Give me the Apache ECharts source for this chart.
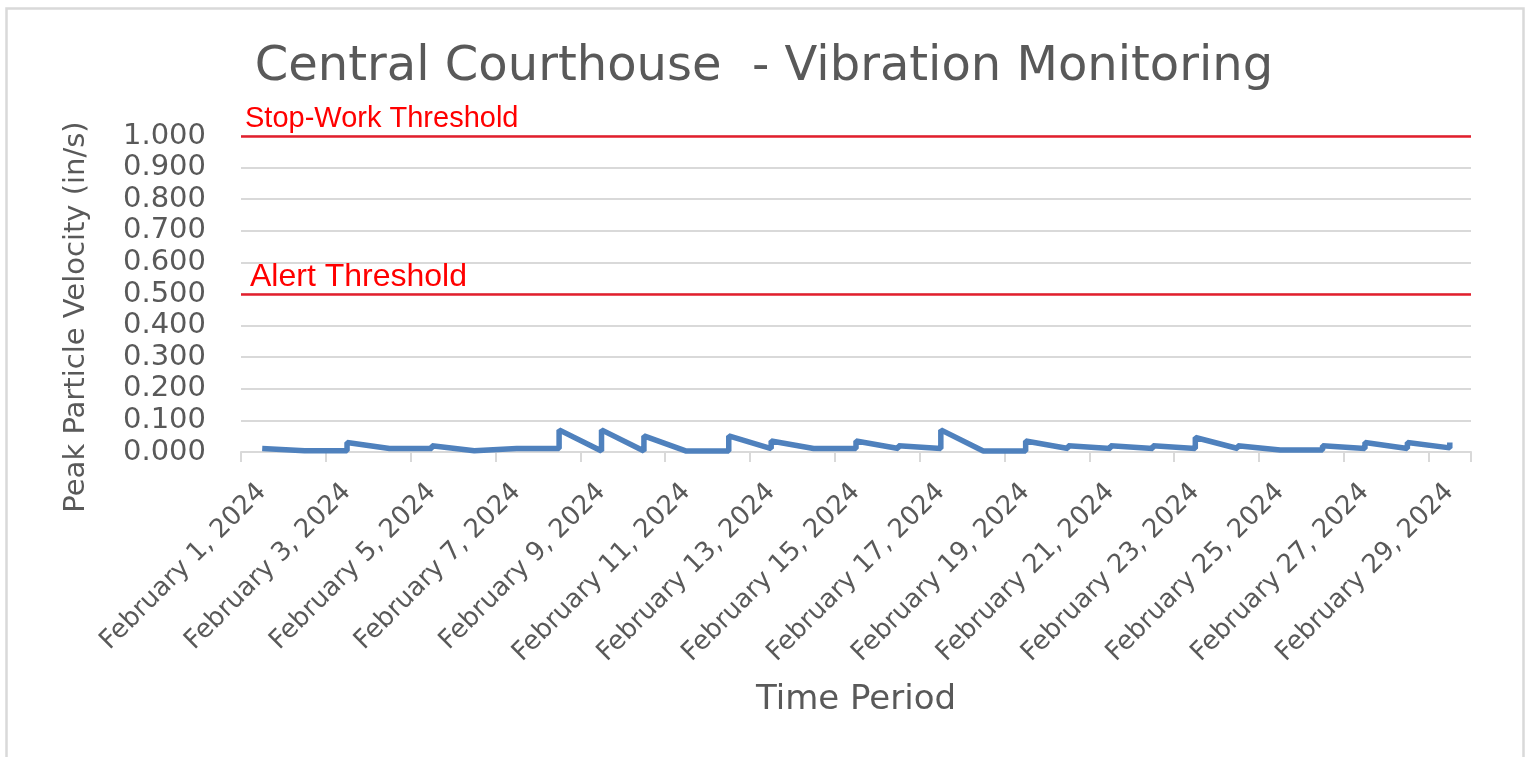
<!DOCTYPE html>
<html>
<head>
<meta charset="utf-8">
<script src="https://cdn.jsdelivr.net/npm/echarts@6/dist/echarts.min.js"></script>
<style>
html,body{margin:0;padding:0;background:#ffffff;}
#chart{width:1528px;height:757px;}
</style>
</head>
<body>
<div id="chart"></div>
<script>
// ---- Data ----
const dates = [
  'February 1, 2024','February 2, 2024','February 3, 2024','February 4, 2024','February 5, 2024',
  'February 6, 2024','February 7, 2024','February 8, 2024','February 9, 2024','February 10, 2024',
  'February 11, 2024','February 12, 2024','February 13, 2024','February 14, 2024','February 15, 2024',
  'February 16, 2024','February 17, 2024','February 18, 2024','February 19, 2024','February 20, 2024',
  'February 21, 2024','February 22, 2024','February 23, 2024','February 24, 2024','February 25, 2024',
  'February 26, 2024','February 27, 2024','February 28, 2024','February 29, 2024'
];
// first reading logged on each date (in/s)
const firstReading = [
  0.011, 0.004, 0.004, 0.011, 0.011, 0.004, 0.011, 0.011, 0.003, 0.003,
  0.003, 0.003, 0.011, 0.011, 0.011, 0.011, 0.011, 0.003, 0.003, 0.011,
  0.011, 0.011, 0.011, 0.011, 0.006, 0.006, 0.011, 0.011, 0.013
];
// peak reading logged on each date (in/s)
const peakReading = [
  0.011, 0.004, 0.030, 0.011, 0.020, 0.004, 0.011, 0.070, 0.070, 0.051,
  0.003, 0.051, 0.035, 0.011, 0.035, 0.020, 0.070, 0.003, 0.035, 0.020,
  0.020, 0.020, 0.046, 0.020, 0.006, 0.020, 0.030, 0.030, 0.030
];
const thresholdNames = ['Stop-Work Threshold', 'Alert Threshold'];
const thresholdValues = [1.0, 0.5];
const yMin = 0, yMax = 1, yStep = 0.1;

// ---- Build the series from the arrays ----
const lineData = [];
dates.forEach(function (d, i) {
  lineData.push([i, firstReading[i]]);
  lineData.push([i, peakReading[i]]);
});

const GRAY = '#595959';
const GRID = '#d9d9d9';
const FONT = 'DejaVu Sans';

const chart = echarts.init(document.getElementById('chart'));
chart.setOption({
  animation: false,
  backgroundColor: '#ffffff',
  title: {
    text: 'Central Courthouse  - Vibration Monitoring',
    left: 'center',
    top: 39,
    textStyle: { fontFamily: FONT, fontSize: 48, fontWeight: 'normal', color: GRAY }
  },
  graphic: [{
    type: 'rect',
    left: 4, top: 6,
    shape: { width: 1517, height: 770 },
    style: { fill: 'none', stroke: GRID, lineWidth: 2.5 },
    silent: true
  }],
  grid: { left: 241, right: 57, top: 136, bottom: 305, containLabel: false },
  xAxis: {
    type: 'category',
    data: dates,
    boundaryGap: true,
    axisLine: { show: true, lineStyle: { color: GRID, width: 2 } },
    axisTick: { show: true, interval: 1, length: 10, lineStyle: { color: GRID, width: 2 } },
    axisLabel: { interval: 1, rotate: 45, color: GRAY, fontFamily: FONT, fontSize: 26, margin: 36 },
    splitLine: { show: false },
    name: 'Time Period',
    nameLocation: 'middle',
    nameGap: 231,
    nameTextStyle: { color: GRAY, fontFamily: FONT, fontSize: 34 }
  },
  yAxis: {
    type: 'value',
    min: yMin, max: yMax, interval: yStep,
    axisLine: { show: false },
    axisTick: { show: false },
    axisLabel: {
      formatter: function (v) { return v.toFixed(3); },
      color: GRAY, fontFamily: FONT, fontSize: 29, margin: 35
    },
    splitLine: { lineStyle: { color: GRID, width: 2 } },
    name: 'Peak Particle Velocity (in/s)',
    nameLocation: 'middle',
    nameRotate: 90,
    nameGap: 150,
    nameTextStyle: { color: GRAY, fontFamily: FONT, fontSize: 29, padding: [0, 46, 0, 0] }
  },
  series: [{
    type: 'line',
    data: lineData,
    symbol: 'none',
    showSymbol: false,
    clip: false,
    lineStyle: { color: '#4f81bd', width: 5.5 },
    itemStyle: { color: '#4f81bd' },
    markLine: {
      silent: true,
      symbol: 'none',
      lineStyle: { color: '#e31f2d', width: 2.5, type: 'solid' },
      data: thresholdValues.map(function (v, i) {
        return {
          yAxis: v,
          name: thresholdNames[i],
          label: {
            show: true,
            position: 'insideStartTop',
            formatter: '{b}',
            color: '#ff0000',
            fontFamily: 'Liberation Sans',
            fontSize: i === 0 ? 29 : 32,
            distance: i === 0 ? [4, 3] : [9, 1]
          }
        };
      })
    }
  }]
});
</script>
</body>
</html>
